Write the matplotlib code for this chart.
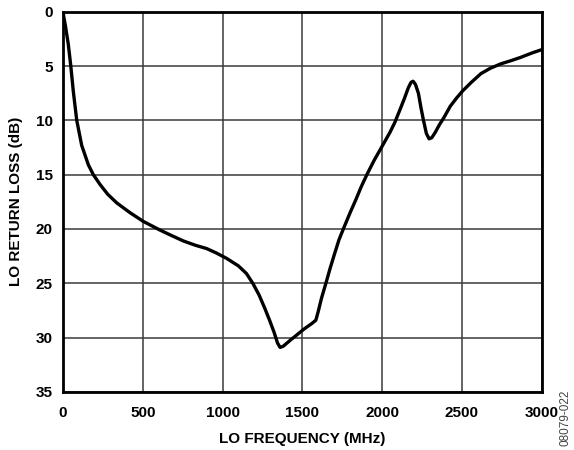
import matplotlib
matplotlib.use("Agg")
import matplotlib.pyplot as plt

# LO return loss vs LO frequency
freq_mhz = [2, 5, 15, 33, 48, 65, 86, 117, 159, 190, 232, 280, 337, 420,
            503, 608, 680, 754, 830, 900, 960, 1025, 1100, 1150, 1190, 1230,
            1265, 1295, 1323, 1345, 1361, 1380, 1428, 1470, 1512, 1560, 1585,
            1600, 1620, 1648, 1675, 1700, 1730, 1763, 1800, 1836, 1870, 1905,
            1950, 2000, 2050, 2080, 2113, 2140, 2165, 2182, 2195, 2210, 2228,
            2245, 2260, 2278, 2295, 2312, 2334, 2360, 2386, 2428, 2470, 2505,
            2560, 2620, 2680, 2745, 2810, 2870, 2940, 3000]
return_loss_db = [0.2, 0.5, 1.3, 3.0, 4.9, 7.4, 10.0, 12.3, 14.1, 15.0, 15.9,
                  16.8, 17.6, 18.5, 19.3, 20.1, 20.6, 21.1, 21.5, 21.8, 22.2,
                  22.7, 23.4, 24.1, 25.0, 26.1, 27.3, 28.4, 29.5, 30.5, 30.9,
                  30.8, 30.2, 29.7, 29.2, 28.7, 28.4, 27.6, 26.4, 25.0, 23.6,
                  22.4, 21.0, 19.8, 18.5, 17.3, 16.1, 15.0, 13.7, 12.4, 11.1,
                  10.2, 9.0, 8.0, 7.0, 6.5, 6.4, 6.7, 7.5, 8.9, 10.0, 11.2,
                  11.7, 11.6, 11.1, 10.4, 9.8, 8.7, 7.9, 7.3, 6.5, 5.7, 5.2,
                  4.8, 4.5, 4.2, 3.8, 3.5]

x_ticks = [0, 500, 1000, 1500, 2000, 2500, 3000]
y_ticks = [0, 5, 10, 15, 20, 25, 30, 35]

plt.rcParams["font.family"] = ["Liberation Sans", "DejaVu Sans"]
plt.rcParams["font.weight"] = "bold"

fig = plt.figure(figsize=(5.74, 4.5), dpi=100)
ax = fig.add_axes([0.1098, 0.129, 0.8336, 0.845])

ax.plot(freq_mhz, return_loss_db, color="black", linewidth=2.4,
        solid_joinstyle="round", solid_capstyle="round", zorder=3)

ax.set_xlim(0, 3000)
ax.set_ylim(35, 0)
ax.set_xticks(x_ticks)
ax.set_yticks(y_ticks)
ax.tick_params(axis="x", length=0, pad=10, labelsize=11)
ax.tick_params(axis="y", length=0, pad=7.5, labelsize=11)
for lbl in ax.get_xticklabels() + ax.get_yticklabels():
    lbl.set_fontweight("bold")

ax.grid(True, color="#3a3a3a", linewidth=1.1)
ax.set_axisbelow(True)
for sp in ax.spines.values():
    sp.set_linewidth(2.0)
    sp.set_color("black")

ax.set_xlabel("LO FREQUENCY (MHz)", fontsize=11, fontweight="bold", labelpad=9)
ax.set_ylabel("LO RETURN LOSS (dB)", fontsize=11, fontweight="bold", labelpad=9)

fig.text(0.986, 1 - 390 / 450, "08079-022", rotation=90, fontsize=8.5,
         color="#444444", ha="center", va="top", fontweight="normal")

fig.savefig("out.png", dpi=100)
